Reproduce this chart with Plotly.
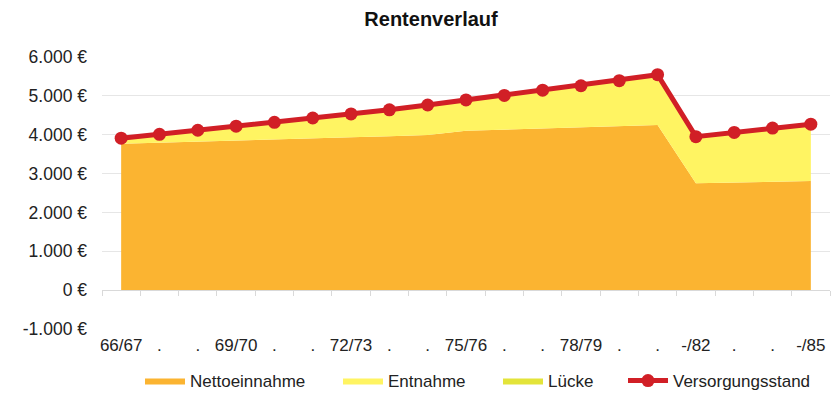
import plotly.graph_objects as go

categories = ["66/67", ".", ".", "69/70", ".", ".", "72/73", ".", ".", "75/76",
              ".", ".", "78/79", ".", ".", "-/82", ".", ".", "-/85"]
nettoeinnahme = [3770, 3800, 3830, 3855, 3885, 3910, 3935, 3960, 3990, 4100,
                 4130, 4160, 4190, 4220, 4250, 2750, 2770, 2790, 2810]
entnahme = [140, 210, 285, 365, 435, 520, 600, 680, 775, 795,
            880, 985, 1070, 1170, 1295, 1200, 1290, 1380, 1460]
luecke = [0] * 19
versorgungsstand = [3910, 4010, 4115, 4220, 4320, 4430, 4535, 4640, 4765, 4895,
                    5010, 5145, 5260, 5390, 5545, 3950, 4060, 4170, 4270]
y_ticks = [-1000, 0, 1000, 2000, 3000, 4000, 5000, 6000]
y_ticklabels = ["-1.000 €", "0 €", "1.000 €", "2.000 €", "3.000 €", "4.000 €", "5.000 €", "6.000 €"]

x = list(range(len(categories)))
FONT = "Arial, Liberation Sans, sans-serif"
FS = 17

fig = go.Figure()
fig.add_trace(go.Scatter(x=x, y=nettoeinnahme, name="Nettoeinnahme", mode="lines",
                         stackgroup="a", line=dict(width=0, color="#FBB431"),
                         fillcolor="#FBB431", legend="legend"))
fig.add_trace(go.Scatter(x=x, y=entnahme, name="Entnahme", mode="lines",
                         stackgroup="a", line=dict(width=0, color="#FFF462"),
                         fillcolor="#FFF462", legend="legend2"))
fig.add_trace(go.Scatter(x=x, y=luecke, name="Lücke", mode="lines",
                         stackgroup="a", line=dict(width=0, color="#E3E43A"),
                         fillcolor="#E3E43A", legend="legend3"))
fig.add_trace(go.Scatter(x=x, y=versorgungsstand, name="Versorgungsstand",
                         mode="lines+markers", legend="legend4",
                         line=dict(width=5, color="#D11F26"),
                         marker=dict(size=13, color="#D11F26")))

# invisible helper trace to show category tick marks on the zero line
fig.add_trace(go.Scatter(x=x, y=[None] * len(x), xaxis="x2", showlegend=False,
                         hoverinfo="skip"))

def leg(px_text_start):
    return dict(orientation="h", x=(px_text_start - 50 - 102) / 728, xanchor="left",
                y=-52 / 272, yanchor="middle", bgcolor="rgba(0,0,0,0)",
                font=dict(family=FONT, size=FS, color="#222222"), itemwidth=40)

fig.update_layout(
    width=838, height=400,
    margin=dict(l=102, r=8, t=57, b=71, autoexpand=False),
    paper_bgcolor="white", plot_bgcolor="white",
    font=dict(family=FONT, size=FS, color="#222222"),
    title=dict(text="<b>Rentenverlauf</b>", x=431 / 838, xanchor="center",
               y=1 - 19 / 400, yanchor="middle",
               font=dict(family=FONT, size=20, color="#111111")),
    showlegend=True,
    legend=leg(190), legend2=leg(388), legend3=leg(548), legend4=leg(673),
    xaxis=dict(range=[-0.5, len(x) - 0.5], tickvals=x, ticktext=categories,
               showgrid=False, zeroline=False, showline=False, ticks="",
               ticklabelstandoff=4,
               tickfont=dict(family=FONT, size=FS, color="#222222")),
    xaxis2=dict(overlaying="x", anchor="free", position=1 / 7, side="bottom",
                range=[-0.5, len(x) - 0.5], tickvals=[i - 0.5 for i in x] + [len(x) - 0.5],
                showticklabels=False, ticks="outside", ticklen=5, tickcolor="#D9D9D9",
                showline=True, linecolor="#D9D9D9", linewidth=1, showgrid=False,
                zeroline=False),
    yaxis=dict(range=[-1000, 6000], tickvals=y_ticks, ticktext=y_ticklabels,
               showgrid=True, gridcolor="#E6E6E6", gridwidth=1, zeroline=False,
               showline=False, ticks="", ticklabelstandoff=14,
               tickfont=dict(family=FONT, size=17.5, color="#222222")),
)

fig.write_html("out.html", config={"displayModeBar": False},
               post_script="document.body.style.margin='0';document.body.style.padding='0';")
